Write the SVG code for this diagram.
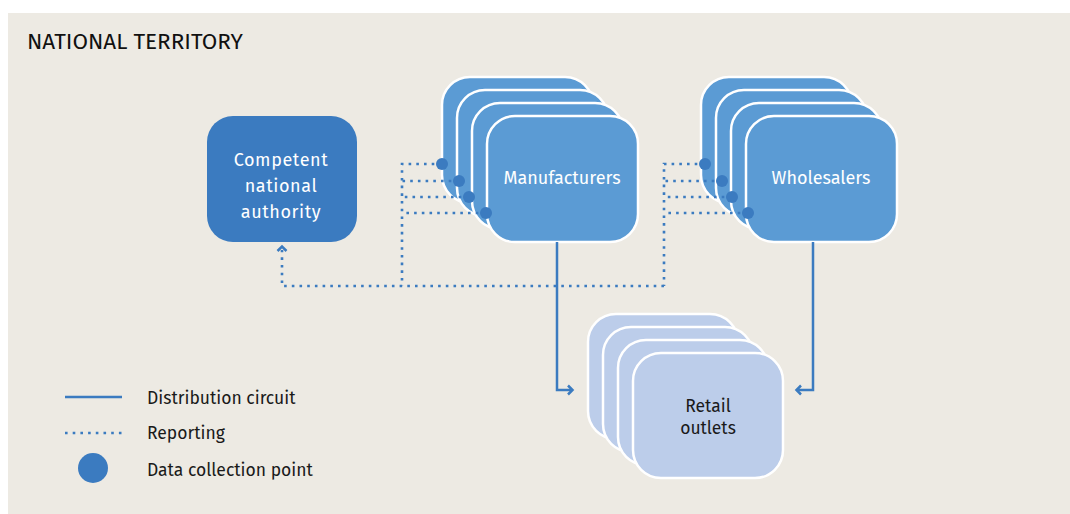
<svg xmlns="http://www.w3.org/2000/svg" width="1070" height="514" viewBox="0 0 1070 514">
<defs>
<style>
.bg{fill:#EDEAE3}
.auth{fill:#3B7BC0}
.mid{fill:#5B9BD4;stroke:#fff;stroke-width:2.5}
.ret{fill:#BCCDEA;stroke:#fff;stroke-width:2.5}
.dot{fill:#3B7BC0}
.solid{fill:none;stroke:#3B7BC0;stroke-width:2.5}
.dotted{fill:none;stroke:#3B7BC0;stroke-width:2.6;stroke-dasharray:2.6 5.1}
.arrow{fill:none;stroke:#3B7BC0;stroke-width:2.5;stroke-linejoin:miter}
.t{font-family:"Fira Sans","Open Sans","Noto Sans",sans-serif}
.wt{fill:#fff;font-size:18px;text-anchor:middle}
.bt{fill:#1a1a1a;font-size:17.5px}
</style>
</defs>
<rect class="bg" x="8" y="13" width="1062" height="501"/>
<text class="t" x="27" y="49" font-size="22.5" fill="#111">NATIONAL TERRITORY</text>

<g id="authority">
<rect class="auth" x="207" y="116" width="150" height="126" rx="26"/>
<text class="t wt" font-size="20" letter-spacing="0.6" x="281" y="166">Competent</text>
<text class="t wt" font-size="20" letter-spacing="0.6" x="281" y="192">national</text>
<text class="t wt" font-size="20" letter-spacing="0.6" x="281" y="218">authority</text>
</g>

<g id="manufacturers">
<rect class="mid" x="442" y="77" width="151" height="126" rx="28"/>
<rect class="mid" x="457" y="90" width="151" height="126" rx="28"/>
<rect class="mid" x="472" y="103" width="151" height="126" rx="28"/>
<rect class="mid" x="487" y="116" width="151" height="126" rx="28"/>
<text class="t wt" x="562" y="184">Manufacturers</text>
</g>

<g id="wholesalers">
<rect class="mid" x="701" y="77" width="151" height="126" rx="28"/>
<rect class="mid" x="716" y="90" width="151" height="126" rx="28"/>
<rect class="mid" x="731" y="103" width="151" height="126" rx="28"/>
<rect class="mid" x="746" y="116" width="151" height="126" rx="28"/>
<text class="t wt" x="821" y="184">Wholesalers</text>
</g>

<g id="retail">
<rect class="ret" x="588" y="314" width="150" height="125" rx="28"/>
<rect class="ret" x="603" y="327" width="150" height="125" rx="28"/>
<rect class="ret" x="618" y="340" width="150" height="125" rx="28"/>
<rect class="ret" x="633" y="353" width="150" height="125" rx="28"/>
<text class="t" x="708" y="412" font-size="17.5" fill="#1a1a1a" text-anchor="middle">Retail</text>
<text class="t" x="708" y="434" font-size="17.5" fill="#1a1a1a" text-anchor="middle">outlets</text>
</g>

<g id="connectors">
<path class="dotted" d="M442,164 H402 V286 M459,181 H402 M469,197 H402 M486,213 H402"/>
<path class="dotted" d="M705,164 H664 V286 M722,181 H664 M732,197 H664 M748,213 H664"/>
<path class="dotted" d="M664,286 H282 V250"/>
<path class="arrow" d="M277.5,251 L282,246.5 L286.5,251"/>
<path class="solid" d="M557,242 V390 H572"/>
<path class="arrow" d="M568,385.5 L572.5,390 L568,394.5"/>
<path class="solid" d="M813,242 V390 H797"/>
<path class="arrow" d="M801,385.5 L796.5,390 L801,394.5"/>
</g>

<g id="collection-points">
<circle class="dot" cx="442" cy="164" r="6"/>
<circle class="dot" cx="459" cy="181" r="6"/>
<circle class="dot" cx="469" cy="197" r="6"/>
<circle class="dot" cx="486" cy="213" r="6"/>
<circle class="dot" cx="705" cy="164" r="6"/>
<circle class="dot" cx="722" cy="181" r="6"/>
<circle class="dot" cx="732" cy="197" r="6"/>
<circle class="dot" cx="748" cy="213" r="6"/>
</g>

<g id="legend">
<line class="solid" x1="65" y1="397" x2="122" y2="397"/>
<text class="t bt" x="147" y="404">Distribution circuit</text>
<line class="dotted" x1="65" y1="433" x2="122" y2="433"/>
<text class="t bt" x="147" y="439">Reporting</text>
<circle class="dot" cx="93" cy="468" r="15"/>
<text class="t bt" x="147" y="476">Data collection point</text>
</g>
</svg>
